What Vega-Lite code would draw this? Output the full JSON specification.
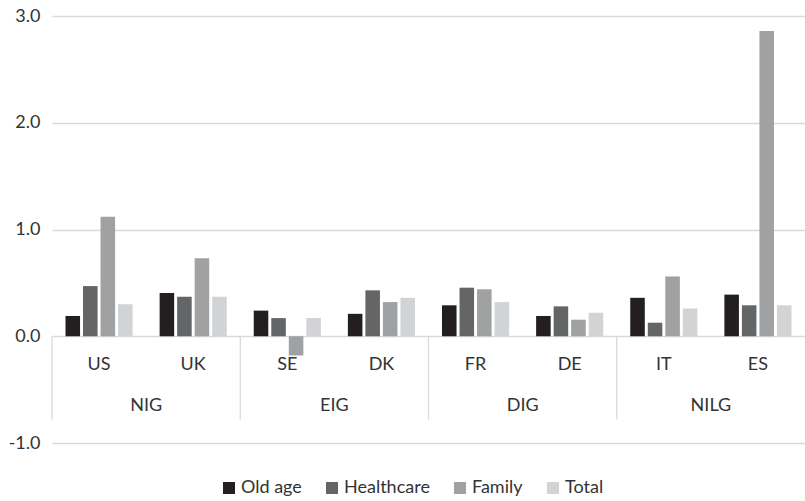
{
  "$schema": "https://vega.github.io/schema/vega-lite/v6.json",
  "width": 753,
  "height": 427,
  "autosize": {"type": "none"},
  "padding": {"left": 52, "top": 16, "right": 0, "bottom": 58},
  "background": "white",
  "config": {
    "view": {"stroke": null},
    "font": "Lato",
    "text": {"font": "Lato", "fontSize": 18, "fill": "#333333"}
  },
  "datasets": {
    "main": [
      {"country": "US", "series": "Old age", "value": 0.19},
      {"country": "US", "series": "Healthcare", "value": 0.47},
      {"country": "US", "series": "Family", "value": 1.12},
      {"country": "US", "series": "Total", "value": 0.30},
      {"country": "UK", "series": "Old age", "value": 0.405},
      {"country": "UK", "series": "Healthcare", "value": 0.37},
      {"country": "UK", "series": "Family", "value": 0.73},
      {"country": "UK", "series": "Total", "value": 0.37},
      {"country": "SE", "series": "Old age", "value": 0.24},
      {"country": "SE", "series": "Healthcare", "value": 0.17},
      {"country": "SE", "series": "Family", "value": -0.18},
      {"country": "SE", "series": "Total", "value": 0.17},
      {"country": "DK", "series": "Old age", "value": 0.21},
      {"country": "DK", "series": "Healthcare", "value": 0.43},
      {"country": "DK", "series": "Family", "value": 0.32},
      {"country": "DK", "series": "Total", "value": 0.36},
      {"country": "FR", "series": "Old age", "value": 0.29},
      {"country": "FR", "series": "Healthcare", "value": 0.455},
      {"country": "FR", "series": "Family", "value": 0.44},
      {"country": "FR", "series": "Total", "value": 0.32},
      {"country": "DE", "series": "Old age", "value": 0.19},
      {"country": "DE", "series": "Healthcare", "value": 0.28},
      {"country": "DE", "series": "Family", "value": 0.155},
      {"country": "DE", "series": "Total", "value": 0.22},
      {"country": "IT", "series": "Old age", "value": 0.36},
      {"country": "IT", "series": "Healthcare", "value": 0.127},
      {"country": "IT", "series": "Family", "value": 0.56},
      {"country": "IT", "series": "Total", "value": 0.26},
      {"country": "ES", "series": "Old age", "value": 0.39},
      {"country": "ES", "series": "Healthcare", "value": 0.29},
      {"country": "ES", "series": "Family", "value": 2.86},
      {"country": "ES", "series": "Total", "value": 0.29}
    ],
    "countries": [
      {"country": "US"}, {"country": "UK"}, {"country": "SE"}, {"country": "DK"},
      {"country": "FR"}, {"country": "DE"}, {"country": "IT"}, {"country": "ES"}
    ],
    "groups": [
      {"group": "NIG", "first": "US", "second": "UK"},
      {"group": "EIG", "first": "SE", "second": "DK"},
      {"group": "DIG", "first": "FR", "second": "DE"},
      {"group": "NILG", "first": "IT", "second": "ES"}
    ]
  },
  "layer": [
    {
      "data": {"name": "main"},
      "mark": {"type": "bar"},
      "encoding": {
        "x": {
          "field": "country", "type": "nominal", "axis": null,
          "scale": {"domain": ["US","UK","SE","DK","FR","DE","IT","ES"], "paddingInner": 0, "paddingOuter": 0}
        },
        "xOffset": {
          "field": "series", "type": "nominal",
          "scale": {"domain": ["Old age","Healthcare","Family","Total"], "paddingInner": 0.17, "paddingOuter": 0.77}
        },
        "y": {
          "field": "value", "type": "quantitative",
          "scale": {"domain": [-1, 3], "nice": false},
          "axis": {
            "values": [-1, 0, 1, 2, 3], "title": null,
            "labelExpr": "datum.value < 0 ? '-' + format(abs(datum.value), '.1f') : format(datum.value, '.1f')",
            "domain": false, "ticks": false, "labelPadding": 12,
            "labelFont": "Lato", "labelFontSize": 18, "labelColor": "#333333",
            "gridColor": "#d9d9d9", "gridWidth": 1.3
          }
        },
        "color": {
          "field": "series", "type": "nominal",
          "scale": {"domain": ["Old age","Healthcare","Family","Total"], "range": ["#231f20","#646567","#a0a1a3","#d2d3d5"]},
          "legend": {
            "title": null, "orient": "none", "direction": "horizontal",
            "legendX": 168, "legendY": 463,
            "symbolType": "square", "symbolSize": 144, "symbolStrokeWidth": 0,
            "labelFont": "Lato", "labelFontSize": 18, "labelColor": "#333333",
            "labelOffset": 3, "columnPadding": 21, "padding": 0
          }
        }
      }
    },
    {
      "data": {"name": "countries"},
      "mark": {"type": "text", "baseline": "middle", "align": "center"},
      "encoding": {
        "x": {"field": "country", "type": "nominal", "axis": null},
        "y": {"datum": -0.27},
        "text": {"field": "country"}
      }
    },
    {
      "data": {"name": "groups"},
      "mark": {"type": "text", "baseline": "middle", "align": "center"},
      "encoding": {
        "x": {"field": "second", "type": "nominal", "axis": null, "bandPosition": 0},
        "y": {"datum": -0.655},
        "text": {"field": "group"}
      }
    },
    {
      "data": {"name": "groups"},
      "mark": {"type": "rule", "color": "#d9d9d9", "strokeWidth": 1.3},
      "encoding": {
        "x": {"field": "first", "type": "nominal", "axis": null, "bandPosition": 0},
        "y": {"datum": 0},
        "y2": {"datum": -0.78}
      }
    }
  ]
}
